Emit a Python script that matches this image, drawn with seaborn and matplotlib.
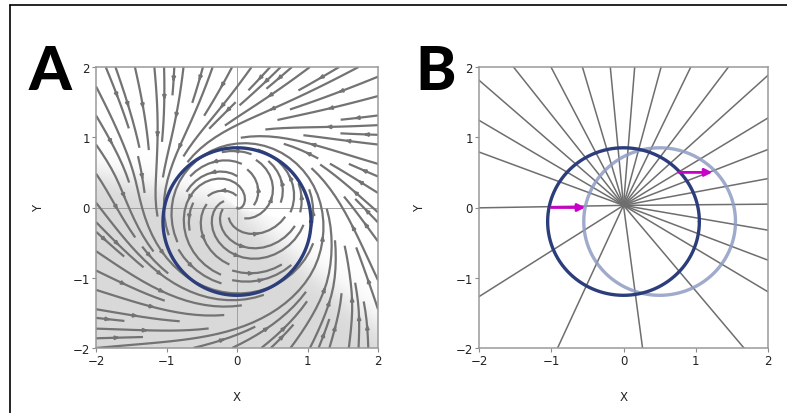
import numpy as np
import pandas as pd
import matplotlib
matplotlib.use("Agg")
import matplotlib.pyplot as plt
from matplotlib.colors import LinearSegmentedColormap
from matplotlib.lines import Line2D
import seaborn as sns

# ---- model / chart values ----
cycle_center = (0.0, -0.2)        # limit cycle centre
cycle_radius = 1.05               # limit cycle radius
cycle_shift = 0.5                 # horizontal shift of the perturbed cycle
fixed_point = (0.0, 0.03)         # common point of the isochron rays
# isochron ray directions (degrees, counter-clockwise from +x)
ray_angles_deg = [-31.6, -21.3, -10.0, 0.5, 10.8, 21.7, 31.9, 42.8, 53.6,
                  64.7, 75.2, 85.5, 95.3, 106.1, 117.0, 127.7, 138.3, 148.8,
                  159.2, 181.0, 213.0, 245.8, 277.4, 309.4]
# fast-phase sector (shaded), degrees
fast_sector_deg = (166.0, 320.0)
# perturbation arrows: start x, end x, y
kick_start_x = [-1.0, 0.77]
kick_end_x = [-0.53, 1.23]
kick_y = [0.0, 0.5]
tick_values = [-2, -1, 0, 1, 2]
panel_labels = ["A", "B"]

sns.set_theme(style="white")
plt.rcParams["font.family"] = ["DejaVu Sans"]

W, H = 787, 414
fig = plt.figure(figsize=(W / 100, H / 100), dpi=100)

axA = fig.add_axes([96 / W, 65 / H, 282 / W, 281 / H])
axB = fig.add_axes([479 / W, 65 / H, 289 / W, 281 / H])

# ---- vector field (panel A) ----
n = 240
xs = np.linspace(-2, 2, n)
ys = np.linspace(-2, 2, n)
X, Y = np.meshgrid(xs, ys)
theta = np.arctan2(Y, X)
r = np.hypot(X, Y)

# distance from the fixed point to the cycle along each direction
cx, cy = cycle_center
ec = np.cos(theta) * cx + np.sin(theta) * cy
rho = ec + np.sqrt(ec ** 2 - (cx ** 2 + cy ** 2) + cycle_radius ** 2)

# soft membership of the fast sector
deg = np.degrees(theta) % 360
lo, hi = fast_sector_deg
d1 = (deg - lo + 180) % 360 - 180
d2 = (hi - deg + 180) % 360 - 180
inside = np.minimum(d1, d2)
dist = np.maximum(r, 0.25) * np.sin(np.radians(np.clip(inside, -90, 90)))
g = 1.0 / (1.0 + np.exp(-dist / 0.11))

a = 1.3
omega = 1.0 + 0.5 * g
vr = a * r * (1 - r / rho)
vt = omega * r
U = vr * np.cos(theta) - vt * np.sin(theta)
V = vr * np.sin(theta) + vt * np.cos(theta)

shade = LinearSegmentedColormap.from_list("shade", ["#ffffff", "#d9d9d9"])
axA.imshow(g, extent=[-2, 2, -2, 2], origin="lower", cmap=shade,
           vmin=0, vmax=1, interpolation="bilinear", zorder=0, aspect="auto")
axA.axhline(0, color="#a0a0a0", lw=0.7, zorder=1)
axA.axvline(0, color="#a0a0a0", lw=0.7, zorder=1)
axA.streamplot(X, Y, U, V, density=1.0, color="#737373", linewidth=1.6,
               arrowsize=0.45, zorder=2)

t = np.linspace(0, 2 * np.pi, 361)
circ = pd.DataFrame({"x": cx + cycle_radius * np.cos(t),
                     "y": cy + cycle_radius * np.sin(t)})
sns.lineplot(data=circ, x="x", y="y", sort=False, estimator=None, ax=axA,
             color="#2c3d7b", lw=2.4, zorder=4)

# ---- isochrons and perturbed cycle (panel B) ----
rows = []
for i, ang in enumerate(ray_angles_deg):
    ra = np.radians(ang)
    for s in (0.0, 4.0):
        rows.append({"ray": i,
                     "x": fixed_point[0] + s * np.cos(ra),
                     "y": fixed_point[1] + s * np.sin(ra)})
rays = pd.DataFrame(rows)
sns.lineplot(data=rays, x="x", y="y", units="ray", estimator=None, sort=False,
             ax=axB, color="#6e6e6e", lw=1.1, zorder=1)

circ_shift = circ.assign(x=circ["x"] + cycle_shift)
sns.lineplot(data=circ_shift, x="x", y="y", sort=False, estimator=None, ax=axB,
             color="#8f9cc3", lw=2.4, alpha=0.85, zorder=3)
sns.lineplot(data=circ, x="x", y="y", sort=False, estimator=None, ax=axB,
             color="#2c3d7b", lw=2.4, zorder=4)

for x0, x1, yk in zip(kick_start_x, kick_end_x, kick_y):
    axB.annotate("", xy=(x1, yk), xytext=(x0, yk),
                 arrowprops=dict(arrowstyle="-|>", color="#c800c8", lw=2.0,
                                 mutation_scale=11, shrinkA=0, shrinkB=0),
                 zorder=5)

# ---- axes styling ----
for ax in (axA, axB):
    ax.set_xlim(-2, 2)
    ax.set_ylim(-2, 2)
    ax.set_xticks(tick_values)
    ax.set_yticks(tick_values)
    ax.set_xticklabels([f"{v}".replace("-", "\u2212") for v in tick_values])
    ax.set_yticklabels([f"{v}".replace("-", "\u2212") for v in tick_values])
    ax.tick_params(axis="both", which="both", direction="out", length=3,
                   width=0.8, color="#8a8a8a", labelsize=8.5, pad=1.5,
                   labelcolor="#222222", bottom=True, left=True)
    for sp in ax.spines.values():
        sp.set_color("#9a9a9a")
        sp.set_linewidth(1.1)
        sp.set_visible(True)
    ax.set_xlabel("X", fontsize=8.5, color="#222222")
    ax.set_ylabel("Y", fontsize=8.5, color="#222222")
    ax.xaxis.set_label_coords(0.5, -0.174)
    ax.yaxis.set_label_coords(-0.205, 0.5)
    ax.xaxis.label.set_va("center")
    ax.yaxis.label.set_va("center")

# panel letters
for lbl, xc in zip(panel_labels, (50, 436)):
    fig.text(xc / W, 1 - 90 / H, lbl, fontsize=44, fontweight="black",
             family=["Lato", "DejaVu Sans"], ha="center", va="baseline",
             color="black")

# outer frame (top and left edges)
fig.add_artist(Line2D([9.5 / W, 1.0], [1 - 5.5 / H, 1 - 5.5 / H],
                      transform=fig.transFigure, color="black", lw=1.2))
fig.add_artist(Line2D([9.5 / W, 9.5 / W], [0.0, 1 - 5.5 / H],
                      transform=fig.transFigure, color="black", lw=1.2))

fig.savefig("out.png", dpi=100)
